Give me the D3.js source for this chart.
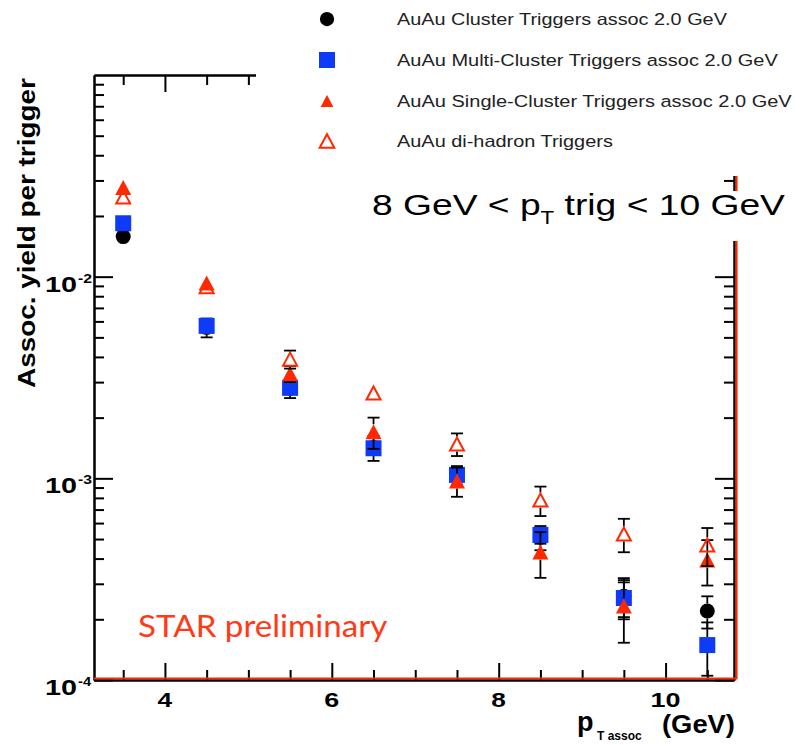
<!DOCTYPE html>
<html>
<head>
<meta charset="utf-8">
<script src="https://cdn.jsdelivr.net/npm/d3@7"></script>
<style>
  body { margin: 0; background: #fff; }
  svg { display: block; }
</style>
</head>
<body>
<svg id="chart" width="795" height="745"></svg>
<script>
// Associated-hadron yield per trigger vs. associated pT (bin centres, GeV)
const pTAssoc = [3.5, 4.5, 5.5, 6.5, 7.5, 8.5, 9.5, 10.5];

const clusterYield  = [0.0158, 0.0056, 0.0028, 0.00142, 0.00104, 0.00051, 0.00026, 0.00022];
const clusterErr    = [0.0006, 0.0006, 0.0003, 0.0002, 0.00011, 0.00007, 0.00006, 0.00004];

const multiYield    = [0.0184, 0.0057, 0.00281, 0.00141, 0.00104, 0.000524, 0.000255, 0.000149];
const multiErr      = [0.0006, 0.0003, 0.0002, 0.0001, 0.00007, 0.00005, 0.00005, 0.000044];

const singleYield   = [0.0277, 0.0093, 0.0033, 0.0017, 0.00097, 0.000431, 0.000233, 0.000394];
const singleErr     = [0.0008, 0.0003, 0.0003, 0.0003, 0.00016, 0.00011, 0.00008, 0.0001];

const dihadronYield = [0.0248, 0.0089, 0.0039, 0.00265, 0.00148, 0.00078, 0.00053, 0.000467];
const dihadronErr   = [0.0006, 0.0003, 0.0004, 0.0001, 0.00019, 0.00013, 0.0001, 0.0001];

const legendLabels = [
  "AuAu Cluster Triggers assoc 2.0 GeV",
  "AuAu Multi-Cluster Triggers assoc 2.0 GeV",
  "AuAu Single-Cluster Triggers assoc 2.0 GeV",
  "AuAu di-hadron Triggers"
];

const xMajorTicks = [4, 6, 8, 10];
const xMinorTicks = [3.5, 4.5, 5, 5.5, 6.5, 7, 7.5, 8.5, 9, 9.5, 10.5];
const yLabelTicks = [1e-4, 1e-3, 1e-2];
const yLabelExps  = ["-4", "-3", "-2"];

const RED = "#ff2800";
const BLUE = "#0d3bf7";
const ROOT_FONT = "'Liberation Sans', Arial, Helvetica, sans-serif";

const svg = d3.select("#chart");

const x = d3.scaleLinear().domain([3.15, 10.82]).range([94, 734]);
const y = d3.scaleLog().domain([1e-4, 0.1]).range([680, 75]);

const [x0, x1] = x.range();
const [yb, yt] = y.range();

// minor log ticks 2..9 in each decade
const yMinorTicks = [];
[-4, -3, -2].forEach(e => {
  for (let m = 2; m <= 9; m++) yMinorTicks.push(m * Math.pow(10, e));
});
const yMajorTicks = [1e-4, 1e-3, 1e-2];

function styleAxis(g) {
  g.selectAll("path.domain").attr("stroke", "#000").attr("stroke-width", 2);
  g.selectAll(".tick line").attr("stroke", "#000").attr("stroke-width", 2);
  g.selectAll(".tick text").remove();
}

const axes = svg.append("g");
// bottom and top frames (ticks point into the frame)
axes.append("g").attr("transform", `translate(0,${yb})`)
  .call(d3.axisTop(x).tickValues(xMajorTicks).tickSize(17).tickSizeOuter(0)).call(styleAxis);
axes.append("g").attr("transform", `translate(0,${yb})`)
  .call(d3.axisTop(x).tickValues(xMinorTicks).tickSize(10).tickSizeOuter(0)).call(styleAxis);
axes.append("g").attr("transform", `translate(0,${yt})`)
  .call(d3.axisBottom(x).tickValues(xMajorTicks).tickSize(17).tickSizeOuter(0)).call(styleAxis);
axes.append("g").attr("transform", `translate(0,${yt})`)
  .call(d3.axisBottom(x).tickValues(xMinorTicks).tickSize(10).tickSizeOuter(0)).call(styleAxis);
// left and right frames
axes.append("g").attr("transform", `translate(${x0},0)`)
  .call(d3.axisRight(y).tickValues(yMajorTicks).tickSize(19).tickSizeOuter(0)).call(styleAxis);
axes.append("g").attr("transform", `translate(${x0},0)`)
  .call(d3.axisRight(y).tickValues(yMinorTicks).tickSize(10).tickSizeOuter(0)).call(styleAxis);
axes.append("g").attr("transform", `translate(${x1},0)`)
  .call(d3.axisLeft(y).tickValues(yMajorTicks).tickSize(19).tickSizeOuter(0)).call(styleAxis);
axes.append("g").attr("transform", `translate(${x1},0)`)
  .call(d3.axisLeft(y).tickValues(yMinorTicks).tickSize(10).tickSizeOuter(0)).call(styleAxis);

// red outline along the bottom and right edges
svg.append("path")
  .attr("d", `M${x0},${yb - 1.5} H${x1 + 2.5} V${yt}`)
  .attr("fill", "none").attr("stroke", RED).attr("stroke-width", 2.2);

// text helper: draws text and stretches it horizontally to a given width
function fitText(parent, x, y, width, build, anchor) {
  const g = parent.append("g").attr("transform", `translate(${x},${y})`);
  const t = g.append("text");
  build(t);
  const w = t.node().getBBox().width;
  const s = width / w;
  let dx = 0;
  if (anchor === "middle") dx = -width / 2;
  t.attr("transform", `translate(${dx},0) scale(${s},1)`);
  return g;
}

// y tick labels 10^n
yLabelTicks.forEach((v, i) => {
  const ty = y(v);
  fitText(svg, 45, ty + 15, 32, t => t.text("10")
    .attr("font-family", ROOT_FONT).attr("font-weight", "bold").attr("font-size", 22).attr("fill", "#000"));
  fitText(svg, 78, ty + 6, 14, t => t.text(yLabelExps[i])
    .attr("font-family", ROOT_FONT).attr("font-weight", "bold").attr("font-size", 13).attr("fill", "#000"));
});

// x tick labels
xMajorTicks.forEach(v => {
  const s = String(v);
  fitText(svg, x(v), 707, 15 * s.length, t => t.text(s)
    .attr("font-family", ROOT_FONT).attr("font-weight", "bold").attr("font-size", 21).attr("fill", "#000"), "middle");
});

// y axis title
const yTitle = svg.append("g").attr("transform", "translate(35,233) rotate(-90)");
fitText(yTitle, 0, 0, 310, t => t.text("Assoc. yield per trigger")
  .attr("font-family", ROOT_FONT).attr("font-weight", "bold").attr("font-size", 24).attr("fill", "#000"), "middle");

// x axis title
svg.append("text").attr("x", 577).attr("y", 731).text("p")
  .attr("font-family", ROOT_FONT).attr("font-weight", "bold").attr("font-size", 27);
svg.append("text").attr("x", 597).attr("y", 740).text("T assoc")
  .attr("font-family", ROOT_FONT).attr("font-weight", "bold").attr("font-size", 12);
fitText(svg, 662, 733, 73, t => t.text("(GeV)")
  .attr("font-family", ROOT_FONT).attr("font-weight", "bold").attr("font-size", 26).attr("fill", "#000"));

// markers
const MS = { circle: 7.5, square: 8, triW: 8, triH: 7.5 };
function trianglePath(cx, cy, hw, hh) {
  return `M${cx},${cy - hh} L${cx + hw},${cy + hh} L${cx - hw},${cy + hh} Z`;
}
function drawMarker(g, kind, cx, cy, scale = 1) {
  if (kind === "circle") {
    g.append("circle").attr("cx", cx).attr("cy", cy).attr("r", MS.circle * scale).attr("fill", "#000");
  } else if (kind === "square") {
    const h = MS.square * scale;
    g.append("rect").attr("x", cx - h).attr("y", cy - h).attr("width", 2 * h).attr("height", 2 * h).attr("fill", BLUE);
  } else if (kind === "tri") {
    g.append("path").attr("d", trianglePath(cx, cy, MS.triW * scale, MS.triH * scale)).attr("fill", RED);
  } else if (kind === "opentri") {
    g.append("path").attr("d", trianglePath(cx, cy, (MS.triW - 1) * scale, (MS.triH - 1) * scale))
      .attr("fill", "none").attr("stroke", RED).attr("stroke-width", 2);
  }
}
const halfHeight = { circle: MS.circle, square: MS.square, tri: MS.triH, opentri: MS.triH };

const series = [
  { kind: "circle",  values: clusterYield,  errors: clusterErr },
  { kind: "square",  values: multiYield,    errors: multiErr },
  { kind: "tri",     values: singleYield,   errors: singleErr },
  { kind: "opentri", values: dihadronYield, errors: dihadronErr }
];

const plot = svg.append("g");
series.forEach(s => {
  const g = plot.append("g");
  const hh = halfHeight[s.kind];
  pTAssoc.forEach((p, i) => {
    const cx = x(p), cy = y(s.values[i]);
    const top = y(s.values[i] + s.errors[i]);
    const bot = y(s.values[i] - s.errors[i]);
    const err = g.append("g").attr("stroke", "#000").attr("stroke-width", 1.8);
    if (top < cy - hh) {
      err.append("line").attr("x1", cx).attr("x2", cx).attr("y1", top).attr("y2", cy - hh);
      err.append("line").attr("x1", cx - 6).attr("x2", cx + 6).attr("y1", top).attr("y2", top);
    }
    if (bot > cy + hh) {
      err.append("line").attr("x1", cx).attr("x2", cx).attr("y1", cy + hh).attr("y2", bot);
      err.append("line").attr("x1", cx - 6).attr("x2", cx + 6).attr("y1", bot).attr("y2", bot);
    }
  });
  pTAssoc.forEach((p, i) => drawMarker(g, s.kind, x(p), y(s.values[i])));
});

// legend panel
const legend = svg.append("g");
legend.append("rect").attr("x", 256).attr("y", 0).attr("width", 539).attr("height", 176).attr("fill", "#fff");
const legendY = [19, 60, 101, 141];
const legendW = [330, 381, 395, 216];
const legendKinds = ["circle", "square", "tri", "opentri"];
const legendScale = [0.95, 1, 0.8, 1.05];
legendLabels.forEach((lab, i) => {
  drawMarker(legend, legendKinds[i], 327, legendY[i], legendScale[i]);
  fitText(legend, 397, legendY[i] + 6, legendW[i], t => t.text(lab)
    .attr("font-family", "Arial, 'Liberation Sans', sans-serif").attr("font-size", 16.5).attr("fill", "#222"));
});

// trigger pT range label
svg.append("rect").attr("x", 366).attr("y", 191).attr("width", 429).attr("height", 50).attr("fill", "#fff");
fitText(svg, 372, 215, 413, t => {
  t.attr("font-family", "Arial, 'Liberation Sans', sans-serif").attr("font-size", 30).attr("fill", "#000");
  t.append("tspan").text("8 GeV < p");
  t.append("tspan").text("T").attr("font-size", 18).attr("dy", 9);
  t.append("tspan").text(" trig < 10 GeV").attr("dy", -9);
});

// preliminary tag
fitText(svg, 138, 637, 250, t => t.text("STAR preliminary")
  .attr("font-family", "Lato, 'Open Sans', sans-serif").attr("font-weight", 400).attr("font-size", 30).attr("fill", "#ff3a14"));
</script>
</body>
</html>
